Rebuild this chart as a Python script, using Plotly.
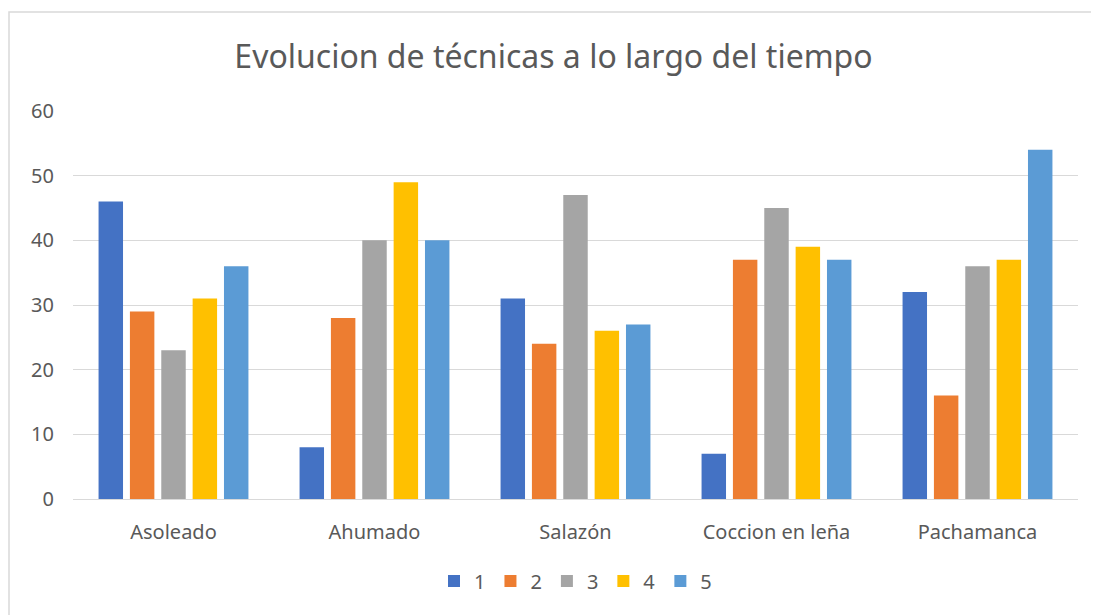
import plotly.graph_objects as go

categories = ["Asoleado", "Ahumado", "Salazón", "Coccion en leña", "Pachamanca"]
series_names = ["1", "2", "3", "4", "5"]
s1 = [46, 8, 31, 7, 32]
s2 = [29, 28, 24, 37, 16]
s3 = [23, 40, 47, 45, 36]
s4 = [31, 49, 26, 39, 37]
s5 = [36, 40, 27, 37, 54]
colors = ["#4472C4", "#ED7D31", "#A5A5A5", "#FFC000", "#5B9BD5"]

fig = go.Figure()
for name, vals, c in zip(series_names, [s1, s2, s3, s4, s5], colors):
    fig.add_trace(go.Bar(x=categories, y=vals, name=name, marker=dict(color=c, line=dict(width=0))))

OFF = 8  # page body offset
W, H = 1099 - OFF, 615 - OFF
L, R, T, B = 73 - OFF, 21, 111 - OFF, 116
pw, ph = W - L - R, H - T - B
zero_y = 499 - OFF

fig.update_layout(
    width=W, height=H,
    margin=dict(l=L, r=R, t=T, b=B),
    paper_bgcolor="white", plot_bgcolor="white",
    font=dict(family="Noto Sans, Open Sans, sans-serif", color="#595959", size=20),
    title=dict(text="Evolucion de técnicas a lo largo del tiempo", x=0.5, xanchor="center",
               y=1 - (57 - OFF) / H, yanchor="middle", font=dict(size=32, color="#595959")),
    barmode="group", bargap=0.22, bargroupgap=0.22,
    showlegend=True,
    legend=dict(orientation="h", x=0.5, xanchor="center", y=(zero_y - (581 - OFF)) / ph, yanchor="middle",
                font=dict(size=20, color="#595959"), itemwidth=30, traceorder="normal"),
    yaxis=dict(range=[0, 60], dtick=10, showgrid=True, gridcolor="#D9D9D9", gridwidth=1,
               zeroline=False, showline=False, ticks="", ticklabelstandoff=18,
               tickfont=dict(size=20, color="#595959")),
    xaxis=dict(showline=True, linecolor="#D9D9D9", linewidth=1, ticks="",
               tickfont=dict(size=20, color="#595959"), ticklabelstandoff=15),
    shapes=[dict(type="rect", xref="paper", yref="paper",
                 x0=(9 - OFF - L) / pw, x1=(1110 - OFF - L) / pw,
                 y0=(zero_y - 630) / ph, y1=(zero_y - (12 - OFF)) / ph,
                 line=dict(color="#D9D9D9", width=1.5), fillcolor="rgba(0,0,0,0)", layer="below")],
)

fig.write_html("out.html")
